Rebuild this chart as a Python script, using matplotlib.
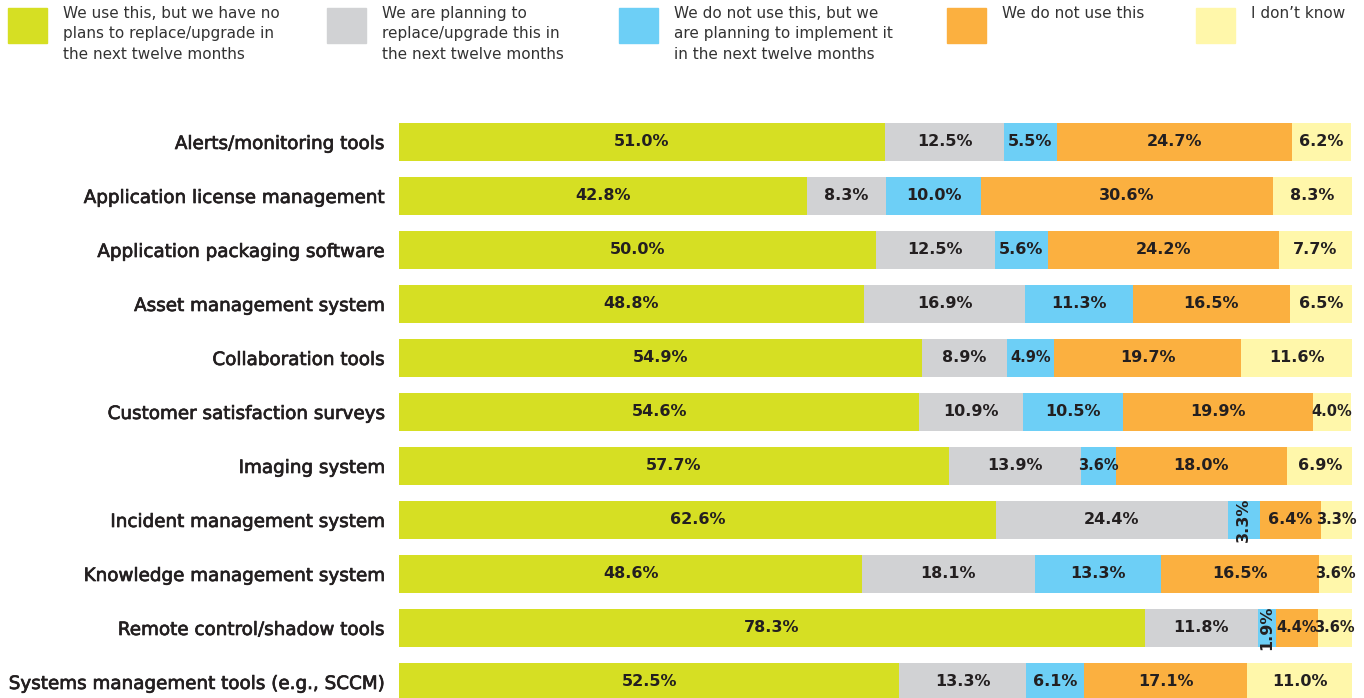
import matplotlib.pyplot as plt
import matplotlib.patches as mpatches
import matplotlib.patheffects as pe

categories = [
    "Alerts/monitoring tools",
    "Application license management",
    "Application packaging software",
    "Asset management system",
    "Collaboration tools",
    "Customer satisfaction surveys",
    "Imaging system",
    "Incident management system",
    "Knowledge management system",
    "Remote control/shadow tools",
    "Systems management tools (e.g., SCCM)",
]

use_no_plans = [51.0, 42.8, 50.0, 48.8, 54.9, 54.6, 57.7, 62.6, 48.6, 78.3, 52.5]
planning_upgrade = [12.5, 8.3, 12.5, 16.9, 8.9, 10.9, 13.9, 24.4, 18.1, 11.8, 13.3]
planning_implement = [5.5, 10.0, 5.6, 11.3, 4.9, 10.5, 3.6, 3.3, 13.3, 1.9, 6.1]
do_not_use = [24.7, 30.6, 24.2, 16.5, 19.7, 19.9, 18.0, 6.4, 16.5, 4.4, 17.1]
dont_know = [6.2, 8.3, 7.7, 6.5, 11.6, 4.0, 6.9, 3.3, 3.6, 3.6, 11.0]

series = [use_no_plans, planning_upgrade, planning_implement, do_not_use, dont_know]
legend_labels = [
    "We use this, but we have no\nplans to replace/upgrade in\nthe next twelve months",
    "We are planning to\nreplace/upgrade this in\nthe next twelve months",
    "We do not use this, but we\nare planning to implement it\nin the next twelve months",
    "We do not use this",
    "I don\u2019t know",
]
colors = ["#D6DF23", "#D1D2D4", "#6DCFF6", "#FBB040", "#FFF7AA"]
text_dark = "#231F20"

fig = plt.figure(figsize=(13.64, 6.98), dpi=100)
ax = fig.add_axes([399 / 1364, 0, (1352 - 399) / 1364, 1 - 115 / 698])

ypos = list(range(len(categories)))
left = [0.0] * len(categories)
for k, vals in enumerate(series):
    ax.barh(ypos, vals, left=left, height=0.7, color=colors[k], edgecolor="none")
    for i, v in enumerate(vals):
        cx = left[i] + v / 2
        rot = 90 if (k == 2 and v < 3.5) else 0
        size = 10.5 if v < 5 and rot == 0 else 11.5
        ax.text(cx, i, f"{v:.1f}%", ha="center", va="center", rotation=rot,
                fontsize=size, fontweight="bold", color=text_dark)
    left = [l + v for l, v in zip(left, vals)]

ax.set_xlim(0, 100)
ax.set_ylim((698 - 142) / 54, -0.5)
ax.set_yticks(ypos)
ax.set_yticklabels(categories, fontsize=13.2, color=text_dark)
for t in ax.get_yticklabels():
    t.set_path_effects([pe.withStroke(linewidth=0.5, foreground=text_dark)])
ax.tick_params(axis="y", length=0, pad=10)
ax.set_xticks([])
for s in ax.spines.values():
    s.set_visible(False)

# legend across the top
leg_x = [8, 327, 619, 947, 1196]
for x, c, lab in zip(leg_x, colors, legend_labels):
    fig.patches.append(mpatches.Rectangle((x / 1364, 1 - 43 / 698), 39 / 1364, 35 / 698,
                                          transform=fig.transFigure, color=c))
    fig.text((x + 55) / 1364, 1 - 6 / 698, lab, ha="left", va="top", fontsize=11,
             color="#333333", linespacing=1.45)

fig.savefig("out.png", dpi=100)
